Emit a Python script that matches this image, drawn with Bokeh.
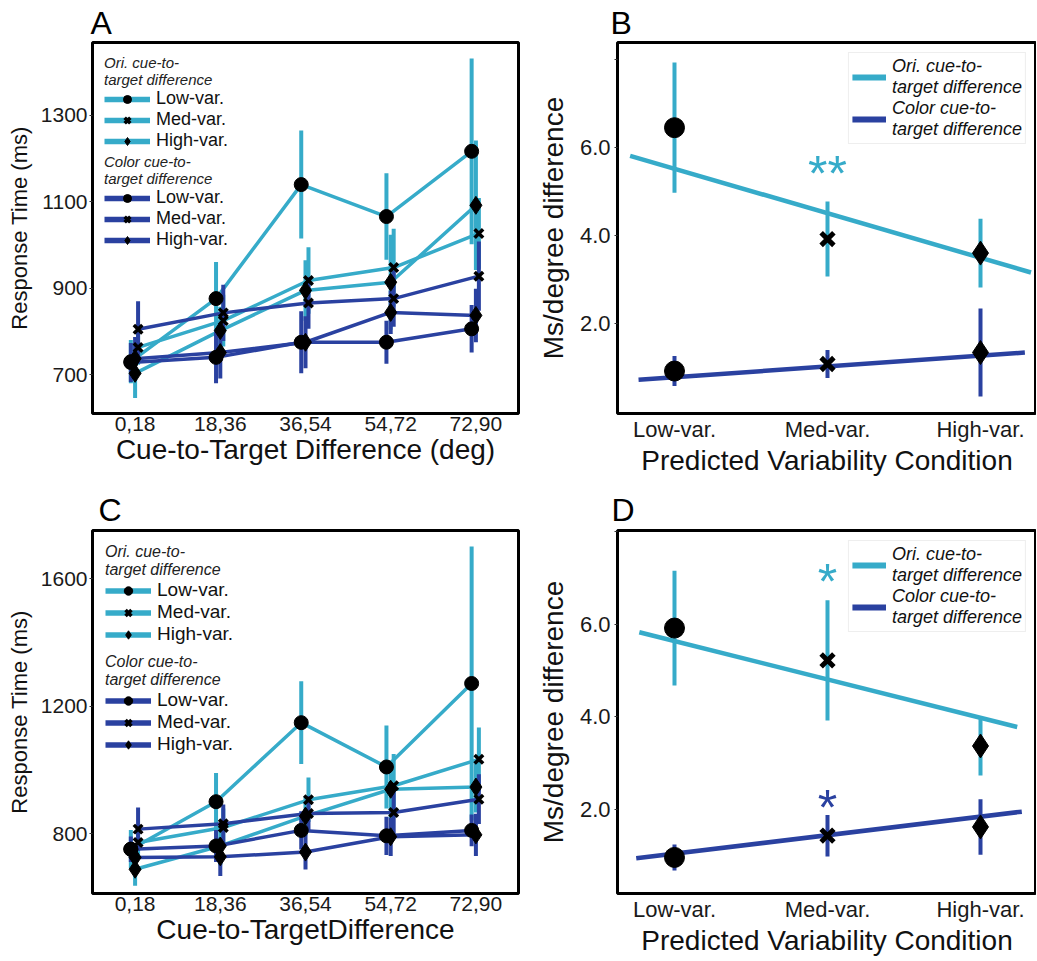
import numpy as np
from bokeh.plotting import figure
from bokeh.models import (ColumnDataSource, Legend, LegendItem, Label, FixedTicker,
                          Range1d, PrintfTickFormatter)
from bokeh.layouts import column, row
from bokeh.embed import file_html
from bokeh.resources import INLINE

# ---------------- data ----------------
bins = ["0,18", "18,36", "36,54", "54,72", "72,90"]
conditions = ["Low-var.", "Med-var.", "High-var."]

# Panel A: response time (ms)
a_ori_low = [730, 876, 1140, 1066, 1217]
a_ori_low_err = [50, 85, 125, 100, 215]
a_ori_med = [763, 825, 918, 948, 1027]
a_ori_med_err = [40, 60, 77, 90, 82]
a_ori_high = [703, 802, 895, 914, 1092]
a_ori_high_err = [57, 55, 70, 110, 150]
a_col_low = [728, 740, 775, 775, 806]
a_col_low_err = [45, 60, 72, 50, 55]
a_col_med = [805, 843, 866, 876, 928]
a_col_med_err = [65, 65, 60, 65, 80]
a_col_high = [737, 751, 775, 844, 837]
a_col_high_err = [50, 60, 60, 50, 62]

# Panel C: response time (ms)
c_ori_low = [751, 900, 1148, 1009, 1271]
c_ori_low_err = [60, 90, 130, 130, 430]
c_ori_med = [772, 819, 906, 950, 1033]
c_ori_med_err = [50, 60, 70, 100, 100]
c_ori_high = [688, 761, 855, 939, 946]
c_ori_high_err = [52, 60, 60, 90, 80]
c_col_low = [751, 761, 810, 793, 810]
c_col_low_err = [40, 50, 60, 60, 50]
c_col_med = [814, 831, 863, 866, 908]
c_col_med_err = [68, 60, 55, 70, 78]
c_col_high = [725, 727, 742, 790, 796]
c_col_high_err = [40, 60, 55, 60, 66]

# Panel B: ms/degree slopes
b_ori = [6.45, 3.92, 3.60]
b_ori_err = [1.48, 0.85, 0.78]
b_col = [0.92, 1.08, 1.34]
b_col_err = [0.34, 0.32, 1.00]
b_ori_fit_x = [-0.29, 2.33]
b_ori_fit_y = [5.81, 3.16]
b_col_fit_x = [-0.235, 2.29]
b_col_fit_y = [0.72, 1.34]

# Panel D: ms/degree slopes
d_ori = [5.92, 5.22, 3.37]
d_ori_err = [1.24, 1.30, 0.64]
d_col = [0.96, 1.43, 1.62]
d_col_err = [0.28, 0.45, 0.60]
d_ori_fit_x = [-0.23, 2.24]
d_ori_fit_y = [5.83, 3.78]
d_col_fit_x = [-0.25, 2.27]
d_col_fit_y = [0.94, 1.95]

# significance marks: (condition index, height, text, group)
b_stars = [(1, 5.58, "**", "ori")]
d_stars = [(1, 7.09, "*", "ori"), (1, 2.21, "*", "col")]

ori_label = "Ori. cue-to-\ntarget difference"
col_label = "Color cue-to-\ntarget difference"

# ---------------- style ----------------
FONT = "Liberation Sans"
CYAN = "#36abc9"
NAVY = "#2a41a0"
GROUP_COLOR = {"ori": CYAN, "col": NAVY}
MARKERS = ["circle", "x", "diamond"]
DODGE = [-0.05, 0.035, 0.0]
BOTTOM = 67
NAN = float("nan")


def base_fig(width, height, xr, yr, bl, br, bt, letter, letter_offset, letter_standoff):
    p = figure(width=width, height=height, x_range=Range1d(*xr), y_range=Range1d(*yr),
               output_backend="svg", toolbar_location=None,
               min_border_left=bl, min_border_right=br, min_border_top=bt,
               min_border_bottom=BOTTOM, title=letter)
    p.title.text_font = FONT
    p.title.text_font_size = "32px"
    p.title.text_font_style = "normal"
    p.title.text_color = "black"
    p.title.align = "left"
    p.title.offset = letter_offset
    p.title.standoff = letter_standoff
    p.grid.visible = False
    p.outline_line_color = "black"
    p.outline_line_width = 3
    p.outline_line_alpha = 1
    for ax in (p.xaxis[0], p.yaxis[0]):
        ax.axis_line_color = None
        ax.major_tick_in = 0
        ax.minor_tick_line_color = None
        ax.major_tick_line_color = "#333333"
        ax.major_label_text_font = FONT
        ax.axis_label_text_font = FONT
        ax.major_label_text_color = "#1a1a1a"
        ax.axis_label_text_color = "#111111"
        ax.axis_label_text_font_style = "normal"
    p.xaxis.major_tick_out = 0
    p.xaxis.major_label_standoff = 3
    p.xaxis.axis_label_standoff = 0
    p.yaxis.major_tick_out = 3
    return p


def rt_panel(data, yr, yticks, xlabel, bt, height, txt, loff, lstand, lab_fs, tit_fs,
             glyph_h, leg_h, leg_m):
    fh = height - bt - BOTTOM
    p = base_fig(520, height, (-0.5, 4.5), yr, 92, 2, bt, txt, loff, lstand)
    p.xaxis.ticker = FixedTicker(ticks=list(range(len(bins))))
    p.xaxis.major_label_overrides = {i: b for i, b in enumerate(bins)}
    p.yaxis.ticker = FixedTicker(ticks=yticks)
    p.xaxis.major_label_text_font_size = "21px"
    p.yaxis.major_label_text_font_size = "21px"
    p.xaxis.axis_label = xlabel
    p.yaxis.axis_label = "Response Time (ms)"
    p.xaxis.axis_label_text_font_size = "28px"
    p.yaxis.axis_label_text_font_size = "22px"
    p.yaxis.axis_label_standoff = 6
    p.yaxis.major_label_standoff = 2

    items = {"ori": [], "col": []}
    markers = []
    for grp in ("ori", "col"):
        color = GROUP_COLOR[grp]
        for ci, (m, e) in enumerate(data[grp]):
            x = np.arange(len(bins)) + DODGE[ci]
            y = np.array(m, dtype=float)
            err = np.array(e, dtype=float)
            src = ColumnDataSource(dict(x=x, y=y, lo=y - err, hi=y + err))
            p.segment(x0="x", y0="lo", x1="x", y1="hi", source=src, line_color=color,
                      line_width=4)
            p.line("x", "y", source=src, line_color=color, line_width=3.5)
            markers.append((ci, src, grp))
    sizes = [14, 12, 18]
    for ci, src, grp in markers:
        mr = p.scatter("x", "y", source=src, marker=MARKERS[ci], size=sizes[ci],
                       fill_color="black", line_color="black",
                       line_width=3.5 if ci == 1 else 1)
        # thicker line swatch used only by the legend (a single NaN point draws nothing)
        swatch = p.line(x=[NAN], y=[NAN], line_color=GROUP_COLOR[grp], line_width=5.5)
        items[grp].append(LegendItem(label=conditions[ci], renderers=[swatch, mr]))

    legs = []
    for grp, title in (("ori", ori_label), ("col", col_label)):
        leg = Legend(items=items[grp], title=title)
        leg.title_text_font = FONT
        leg.title_text_font_style = "italic"
        leg.title_text_font_size = tit_fs
        leg.title_text_color = "#222222"
        leg.title_standoff = 0
        leg.label_text_font = FONT
        leg.label_text_font_size = lab_fs
        leg.label_text_color = "#111111"
        leg.label_height = 17
        leg.glyph_height = glyph_h
        leg.glyph_width = 46
        leg.label_standoff = 6
        leg.padding = 4
        leg.spacing = 0
        leg.border_line_color = None
        leg.background_fill_alpha = 0.9
        legs.append(leg)
    legs[0].location = "top_left"
    legs[0].margin = leg_m
    legs[1].margin = 0
    legs[1].location = (leg_m, fh - leg_m - 2 * leg_h)
    for leg in legs:
        p.add_layout(leg)
    return p


def slope_panel(ori, ori_err, col, col_err, ofx, ofy, cfx, cfy, yr, bt, height, txt,
                loff, lstand, stars):
    p = base_fig(516, height, (-0.3725, 2.366), yr, 97, 0, bt, txt, loff, lstand)
    p.xaxis.ticker = FixedTicker(ticks=list(range(len(conditions))))
    p.xaxis.major_label_overrides = {i: c for i, c in enumerate(conditions)}
    p.yaxis.ticker = FixedTicker(ticks=[2, 4, 6, 8])
    p.yaxis.formatter = PrintfTickFormatter(format="%.1f")
    p.yaxis.major_label_overrides = {8: ""}
    p.xaxis.major_label_text_font_size = "22px"
    p.yaxis.major_label_text_font_size = "22px"
    p.xaxis.axis_label = "Predicted Variability Condition"
    p.yaxis.axis_label = "Ms/degree difference"
    p.xaxis.axis_label_text_font_size = "28px"
    p.yaxis.axis_label_text_font_size = "28px"
    p.yaxis.axis_label_standoff = 8
    p.yaxis.major_label_standoff = 4

    x = np.arange(len(conditions))
    swatches = []
    for vals, errs, fx, fy, color in ((ori, ori_err, ofx, ofy, CYAN), (col, col_err, cfx, cfy, NAVY)):
        v = np.array(vals, dtype=float)
        e = np.array(errs, dtype=float)
        p.segment(x0=x, y0=v - e, x1=x, y1=v + e, line_color=color, line_width=4)
        p.line(fx, fy, line_color=color, line_width=4.5)
        swatches.append(p.line(x=[NAN], y=[NAN], line_color=color, line_width=6))
    for vals in (ori, col):
        src = ColumnDataSource(dict(x=x, y=vals, m=MARKERS, s=[20, 18, 24], lw=[1, 5, 1]))
        p.scatter("x", "y", source=src, marker="m", size="s", fill_color="black",
                  line_color="black", line_width="lw")
    for sx, sy, st, grp in stars:
        p.add_layout(Label(x=sx, y=sy, text=st, text_font=FONT, text_font_size="50px",
                           text_color=GROUP_COLOR[grp], text_align="center",
                           text_baseline="alphabetic", y_offset=-8))
    leg = Legend(items=[LegendItem(label=ori_label, renderers=[swatches[0]]),
                        LegendItem(label=col_label, renderers=[swatches[1]])],
                 location="top_right")
    leg.label_text_font = FONT
    leg.label_text_font_style = "italic"
    leg.label_text_font_size = "18px"
    leg.label_text_color = "#111111"
    leg.glyph_width = 34
    leg.label_standoff = 6
    leg.padding = 3
    leg.spacing = 0
    leg.margin = 10
    leg.border_line_color = "#dddddd"
    leg.border_line_width = 1
    p.add_layout(leg)
    return p


pA = rt_panel({"ori": [(a_ori_low, a_ori_low_err), (a_ori_med, a_ori_med_err), (a_ori_high, a_ori_high_err)],
               "col": [(a_col_low, a_col_low_err), (a_col_med, a_col_med_err), (a_col_high, a_col_high_err)]},
              (610, 1469), [700, 900, 1100, 1300], "Cue-to-Target Difference (deg)",
              42, 480, "A", -2, 4, "18px", "15px", 20, 98, 12)
pC = rt_panel({"ori": [(c_ori_low, c_ori_low_err), (c_ori_med, c_ori_med_err), (c_ori_high, c_ori_high_err)],
               "col": [(c_col_low, c_col_low_err), (c_col_med, c_col_med_err), (c_col_high, c_col_high_err)]},
              (612, 1751), [800, 1200, 1600], "Cue-to-TargetDifference",
              50, 480, "C", 6, 5, "19px", "16px", 21, 106, 13)
pB = slope_panel(b_ori, b_ori_err, b_col, b_col_err, b_ori_fit_x, b_ori_fit_y, b_col_fit_x, b_col_fit_y,
                 (-0.045, 8.386), 42, 480, "B", -7, 4, b_stars)
pD = slope_panel(d_ori, d_ori_err, d_col, d_col_err, d_ori_fit_x, d_ori_fit_y, d_col_fit_x, d_col_fit_y,
                 (0.18, 8.03), 50, 480, "D", -6, 5, d_stars)

layout = column(row(pA, pB), row(pC, pD))
open("out.html", "w").write(file_html(layout, INLINE))
